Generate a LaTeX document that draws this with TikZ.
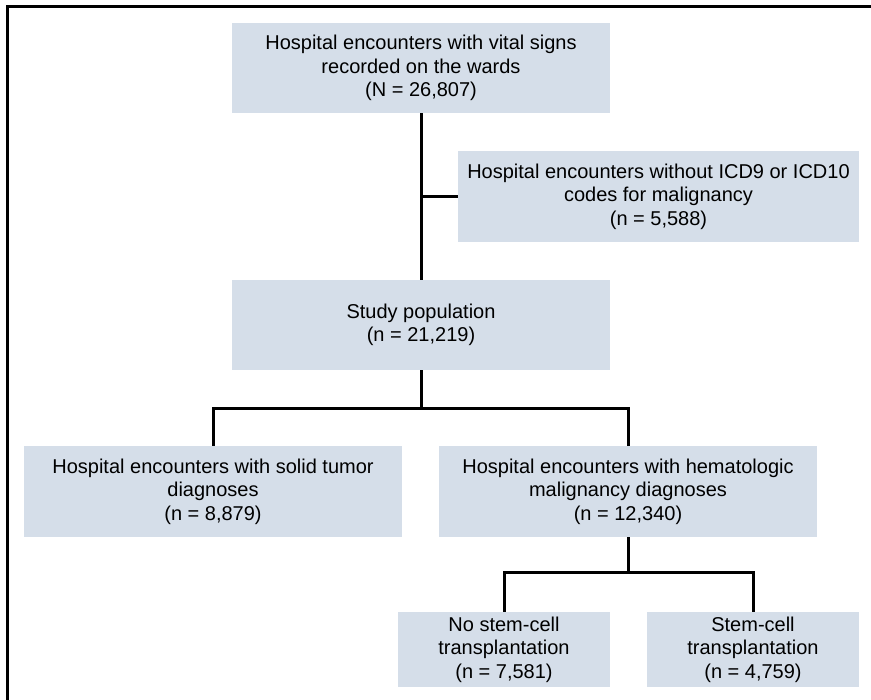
\documentclass[tikz,border=0pt]{standalone}
\usepackage{fontspec}
\setmainfont{Liberation Sans}
\definecolor{boxfill}{RGB}{213,222,233}
\begin{document}
\begin{tikzpicture}[x=1pt,y=-1pt,
  box/.style={rectangle, fill=boxfill, inner sep=0pt, align=center,
    font=\fontsize{20}{23.5}\selectfont},
  conn/.style={line width=3pt}]
\useasboundingbox (0,0) rectangle (871,700);
\draw[line width=2.4pt] (7.5,702) -- (7.5,6.5) -- (873,6.5);
\node[box, minimum width=378pt, minimum height=90pt] (top) at (421,68)
  {Hospital encounters with vital signs\\recorded on the wards\\(N = 26,807)};
\node[box, minimum width=401pt, minimum height=91pt] (excl) at (658.5,196.5)
  {Hospital encounters without ICD9 or ICD10\\codes for malignancy\\(n = 5,588)};
\node[box, minimum width=378pt, minimum height=90pt] (study) at (421,325)
  {Study population\\(n = 21,219)};
\node[box, minimum width=378pt, minimum height=91pt] (solid) at (213,491.5)
  {Hospital encounters with solid tumor\\diagnoses\\(n = 8,879)};
\node[box, minimum width=378pt, minimum height=91pt] (hem) at (628,491.5)
  {Hospital encounters with hematologic\\malignancy diagnoses\\(n = 12,340)};
\node[box, minimum width=212pt, minimum height=75pt] (nostem) at (504,649.5)
  {No stem-cell\\transplantation\\(n = 7,581)};
\node[box, minimum width=212pt, minimum height=75pt] (stem) at (753,649.5)
  {Stem-cell\\transplantation\\(n = 4,759)};
\coordinate (b1) at (421,409);
\coordinate (b2) at (628,573);
\draw[conn] (top.south) -- (study.north);
\draw[conn] (excl.west) -- (excl.west -| top.south);
\draw[conn] (study.south) -- (b1);
\draw[conn] (solid.north) |- (b1) -| (hem.north);
\draw[conn] (hem.south) -- (b2);
\draw[conn] (nostem.north) |- (b2) -| (stem.north);
\end{tikzpicture}
\end{document}
